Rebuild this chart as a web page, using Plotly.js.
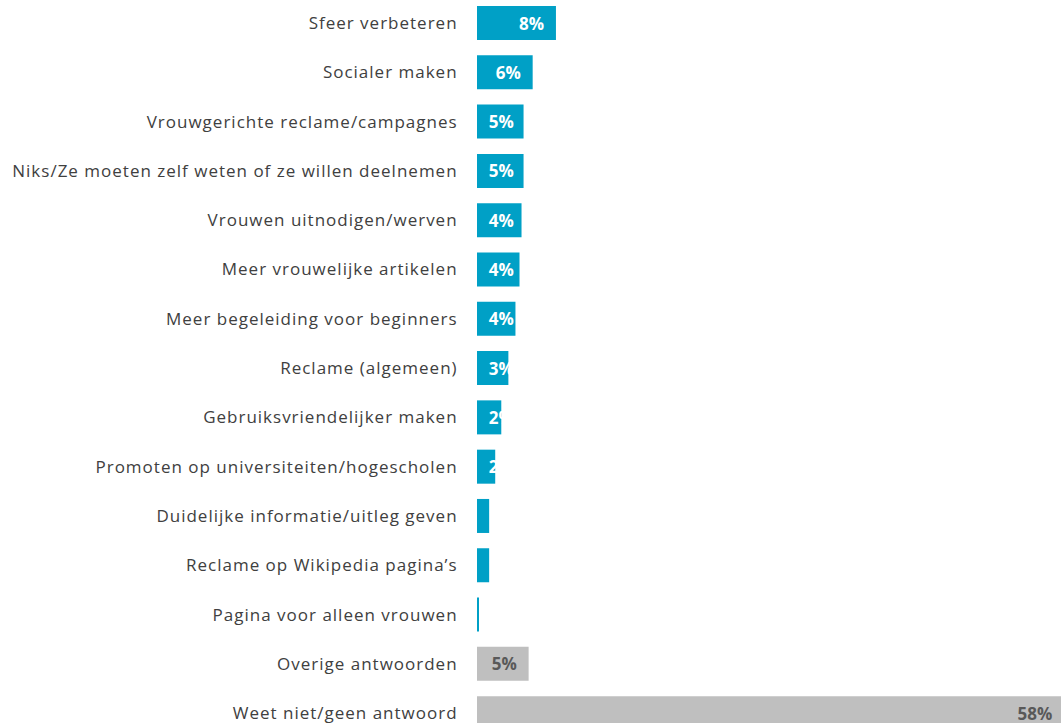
<!DOCTYPE html>
<html>
<head>
<meta charset="utf-8">
<script src="https://cdn.plot.ly/plotly-3.0.1.min.js"></script>
<style>
  body { margin: 0; background: #fff; }
  #plot { width: 1061px; height: 723px; }
  /* the original labels are set a little looser */
  #plot .ytick text { letter-spacing: 1px; }
</style>
</head>
<body>
<div id="plot"></div>
<script>
/* Answers, top to bottom */
var categories = [
  "Sfeer verbeteren",
  "Socialer maken",
  "Vrouwgerichte reclame/campagnes",
  "Niks/Ze moeten zelf weten of ze willen deelnemen",
  "Vrouwen uitnodigen/werven",
  "Meer vrouwelijke artikelen",
  "Meer begeleiding voor beginners",
  "Reclame (algemeen)",
  "Gebruiksvriendelijker maken",
  "Promoten op universiteiten/hogescholen",
  "Duidelijke informatie/uitleg geven",
  "Reclame op Wikipedia pagina\u2019s",
  "Pagina voor alleen vrouwen",
  "Overige antwoorden",
  "Weet niet/geen antwoord"
];

var values = [7.8, 5.5, 4.6, 4.6, 4.4, 4.2, 3.8, 3.1, 2.4, 1.8, 1.2, 1.2, 0.1, 5.1, 58];

var valueLabels = ["8%", "6%", "5%", "5%", "4%", "4%", "4%", "3%", "2%", "2%", "1%", "1%", "0%", "5%", "58%"];

var isOther = [false, false, false, false, false, false, false, false, false, false, false, false, false, true, true];

var blue = '#00A0C6';
var grey = '#BFBFBF';

/* Excel puts the label at the end of the bar, unless the bar is too short:
   then the label starts near the bar's base and gets cut off */
function makeTrace(wide) {
  var idx = [];
  values.forEach(function (v, i) { if ((v >= 5) === wide) idx.push(i); });
  var pad = '\u00a0\u00a0';
  return {
    type: 'bar',
    orientation: 'h',
    y: idx.map(function (i) { return categories[i]; }),
    x: idx.map(function (i) { return values[i]; }),
    text: idx.map(function (i) { return wide ? valueLabels[i] + pad : pad + valueLabels[i]; }),
    textposition: 'inside',
    insidetextanchor: wide ? 'end' : 'start',
    constraintext: 'none',
    textangle: 0,
    textfont: {
      family: 'Open Sans',
      size: 17,
      weight: 'bold',
      color: idx.map(function (i) { return isOther[i] ? '#595959' : '#FFFFFF'; })
    },
    marker: {
      color: idx.map(function (i) { return isOther[i] ? grey : blue; })
    },
    hoverinfo: 'y+x'
  };
}

var data = [makeTrace(true), makeTrace(false)];

var layout = {
  width: 1061,
  height: 723,
  margin: { l: 477, r: 0, t: 0, b: 0 },
  paper_bgcolor: '#fff',
  plot_bgcolor: '#fff',
  showlegend: false,
  barmode: 'overlay',
  bargap: 0.31,
  xaxis: {
    range: [0, 57.7],
    visible: false,
    fixedrange: true
  },
  yaxis: {
    type: 'category',
    categoryorder: 'array',
    categoryarray: categories,
    range: [14.2, -0.467],
    automargin: false,
    showgrid: false,
    zeroline: false,
    showline: false,
    ticks: 'outside',
    ticklen: 15,
    tickcolor: 'rgba(0,0,0,0)',
    tickfont: { family: 'Open Sans', size: 17, color: '#404040' },
    fixedrange: true
  }
};

Plotly.newPlot("plot", data, layout, { displayModeBar: false });
</script>
</body>
</html>
